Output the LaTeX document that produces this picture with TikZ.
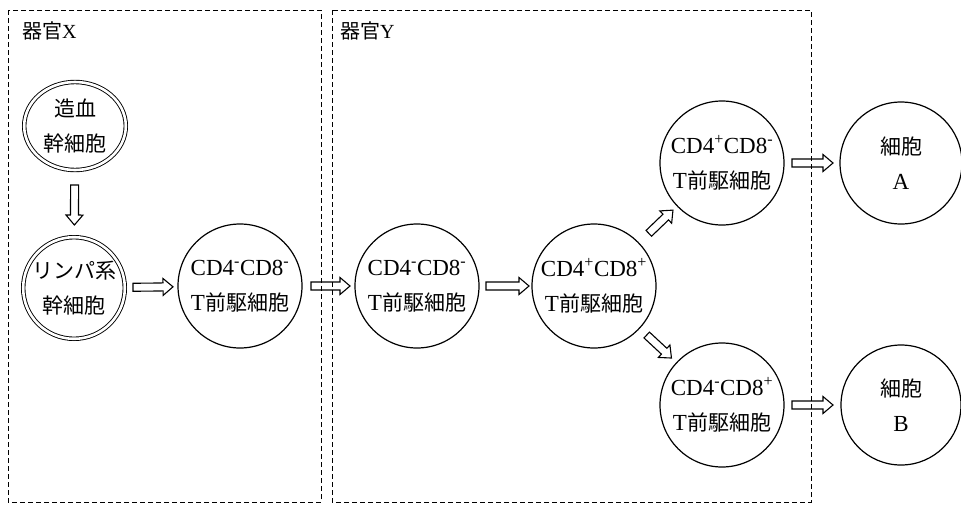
\documentclass[tikz,border=0pt]{standalone}
\usepackage{fontspec}
\setmainfont{Liberation Serif}
\newfontfamily\cjkfont{Noto Sans CJK JP}
\usetikzlibrary{calc,shapes.geometric}
\newcommand\CJ[1]{{\cjkfont\fontsize{21}{35}\selectfont #1}}
\newcommand\up[1]{\textsuperscript{#1}}
\newcommand\hollowarrow[4]{%
  \path ($(#1)!#3!(#2)$) coordinate (hs) ($(#2)!#4!(#1)$) coordinate (he);
  \path ($(he)!10pt!(hs)$) coordinate (hh);
  \draw[hollow] ($(hs)!4pt!90:(he)$) -- ($(hh)!4pt!90:(he)$) -- ($(hh)!8.5pt!90:(he)$)
    -- (he) -- ($(hh)!8.5pt!-90:(he)$) -- ($(hh)!4pt!-90:(he)$) -- ($(hs)!4pt!-90:(he)$) -- cycle;}
\begin{document}
\begin{tikzpicture}[x=1pt,y=-1pt,
  cell/.style={circle,draw,line width=1.2pt,minimum size=124pt,inner sep=0pt,align=center,
    font=\fontsize{23}{35}\selectfont},
  stem/.style={cell,double,double distance=2.6pt,line width=0.9pt,minimum size=101.6pt},
  organ/.style={draw,dash pattern=on 5pt off 3pt,line width=0.9pt},
  organlabel/.style={anchor=west,inner sep=0pt,font=\fontsize{20}{24}\selectfont},
  hollow/.style={draw,line width=1.1pt,line join=miter}]
\useasboundingbox (0,0) rectangle (961,504);
% organ regions
\draw[organ] (8,10) rectangle (321,502);
\draw[organ] (332,10) rectangle (811,502);
\node[organlabel] (labX) at (22,31) {{\cjkfont 器官}X};
\node[organlabel] (labY) at (340,31) {{\cjkfont 器官}Y};
% cells
\node[stem,ellipse,minimum width=101.6pt,minimum height=88pt] (hsc) at (75,126) {\CJ{造血}\\\CJ{幹細胞}};
\node[stem] (lym) at (74,288) {\CJ{リンパ系}\\\CJ{幹細胞}};
\node[cell] (cdX) at (240,286) {CD4\up{-}CD8\up{-}\\T\CJ{前駆細胞}};
\node[cell] (cdY) at (417,286) {CD4\up{-}CD8\up{-}\\T\CJ{前駆細胞}};
\node[cell] (dp) at (594,286) {CD4\up{+}CD8\up{+}\\T\CJ{前駆細胞}};
\node[cell] (p4) at (722,163) {CD4\up{+}CD8\up{-}\\T\CJ{前駆細胞}};
\node[cell] (p8) at (722,405) {CD4\up{-}CD8\up{+}\\T\CJ{前駆細胞}};
\node[cell,minimum size=122pt] (cA) at (901,163) {\CJ{細胞}\\A};
\node[cell,minimum size=120pt] (cB) at (901,405) {\CJ{細胞}\\B};
% arrows
\hollowarrow{hsc}{lym}{59pt}{63pt}
\hollowarrow{lym}{cdX}{59pt}{67pt}
\hollowarrow{cdX}{cdY}{71pt}{67pt}
\hollowarrow{cdY}{dp}{69pt}{65pt}
\hollowarrow{dp}{p4}{76pt}{68pt}
\hollowarrow{dp}{p8}{72pt}{69pt}
\hollowarrow{p4}{cA}{70pt}{68pt}
\hollowarrow{p8}{cB}{70pt}{68pt}
\end{tikzpicture}
\end{document}
